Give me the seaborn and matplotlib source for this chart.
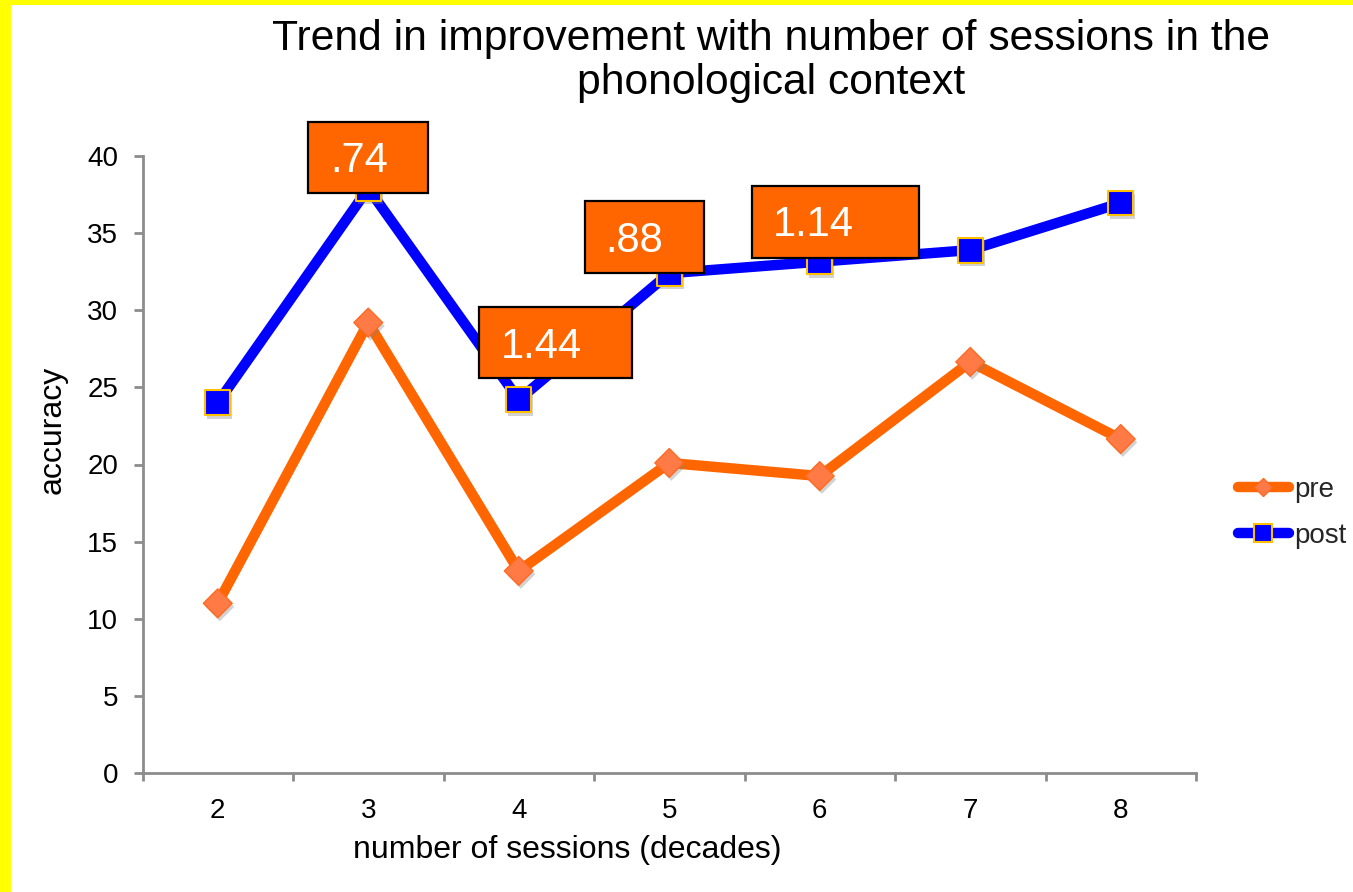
import matplotlib
matplotlib.use("Agg")
import matplotlib.pyplot as plt
import matplotlib.patheffects as pe
from matplotlib.patches import Rectangle
from matplotlib.lines import Line2D
import numpy as np
import seaborn as sns

# ---- data -------------------------------------------------------------
sessions = [2, 3, 4, 5, 6, 7, 8]
pre = [11.0, 29.2, 13.1, 20.1, 19.25, 26.65, 21.65]
post = [24.0, 37.9, 24.2, 32.4, 33.15, 33.9, 36.95]
series_names = ["pre", "post"]
effect_labels = [".74", "1.44", ".88", "1.14"]

title = "Trend in improvement with number of sessions in the\nphonological context"
x_label = "number of sessions (decades)"
y_label = "accuracy"

# ---- styling ----------------------------------------------------------
ORANGE = "#FF6600"
ORANGE_MARK = "#FF7A45"
BLUE = "#0000FF"
GOLD = "#FFC000"
AXIS_GREY = "#8C8C8C"
LINE_W = 7.5

# call-out boxes in data units: (x0, x1, y0, y1, text x, text baseline)
box_geom = [
    (2.602, 3.395, 37.62, 42.22, 2.745, 38.95),
    (3.738, 4.751, 25.59, 30.19, 3.880, 26.90),
    (4.440, 5.233, 32.43, 37.08, 4.578, 33.80),
    (5.548, 6.659, 33.41, 38.06, 5.686, 34.80),
]

sns.set_theme(style="white")
plt.rcParams["font.family"] = ["Liberation Sans", "DejaVu Sans"]

W, H = 1353, 892
fig = plt.figure(figsize=(W / 100, H / 100), dpi=100, facecolor="#FFFF00")
# white page inside the yellow frame
fig.patches.append(Rectangle((11 / W, 0), 1, 1 - 5 / H, transform=fig.transFigure,
                             facecolor="white", edgecolor="none", zorder=-5))

ax = fig.add_axes([142.5 / W, 119 / H, 1053.5 / W, 617 / H])
ax.set_facecolor("none")

shadow = [pe.SimplePatchShadow(offset=(1.5, -2.5), shadow_rgbFace="#808080", alpha=0.35),
          pe.Normal()]

# lines
sns.lineplot(x=sessions, y=pre, color=ORANGE, linewidth=LINE_W, ax=ax, zorder=2)
sns.lineplot(x=sessions, y=post, color=BLUE, linewidth=LINE_W, ax=ax, zorder=2)

# markers
sns.scatterplot(x=sessions, y=pre, marker="D", s=215, color=ORANGE_MARK,
                edgecolor="#FF6A20", linewidth=1.0, ax=ax, zorder=4, legend=False)
ax.collections[-1].set_path_effects(shadow)
sns.scatterplot(x=sessions, y=post, marker="s", s=320, color=BLUE,
                edgecolor=GOLD, linewidth=1.5, ax=ax, zorder=4, legend=False)
ax.collections[-1].set_path_effects(shadow)

# call-out boxes
for lab, (x0, x1, y0, y1, tx, ty) in zip(effect_labels, box_geom):
    ax.add_patch(Rectangle((x0, y0), x1 - x0, y1 - y0, facecolor=ORANGE,
                           edgecolor="black", linewidth=1.6, zorder=6, clip_on=False))
    ax.text(tx, ty, lab, color="white", fontsize=30, ha="left", va="baseline",
            zorder=7, clip_on=False)

# axes
ax.set_xlim(1.5, 8.5)
ax.set_ylim(0, 40)
ax.set_xticks(np.arange(1.5, 9.0, 1.0))
ax.set_xticklabels([])
ax.set_xticks(sessions, minor=True)
ax.set_xticklabels([str(s) for s in sessions], minor=True)
ax.set_yticks(range(0, 41, 5))

ax.tick_params(axis="x", which="major", bottom=True, length=5.5, width=2,
               color=AXIS_GREY, direction="out")
ax.tick_params(axis="x", which="minor", bottom=True, length=0, pad=18,
               labelsize=20, labelcolor="black")
ax.tick_params(axis="y", which="major", left=True, length=6.5, width=2,
               color=AXIS_GREY, direction="out", pad=11, labelsize=20,
               labelcolor="black")

sns.despine(ax=ax)
for side in ("left", "bottom"):
    ax.spines[side].set_color(AXIS_GREY)
    ax.spines[side].set_linewidth(2)

ax.set_xlabel(x_label, fontsize=23, color="black")
ax.xaxis.set_label_coords(0.4034, -0.100)
ax.set_ylabel(y_label, fontsize=23, color="black")
ax.yaxis.set_label_coords(-0.0707, 0.556)

fig.text(771 / W, 1 - 19 / H, title, ha="center", va="top", fontsize=30.7,
         linespacing=1.12, color="black")

handles = [
    Line2D([], [], color=ORANGE, lw=LINE_W, marker="D", markersize=9.5,
           markerfacecolor=ORANGE_MARK, markeredgecolor="#FF6A20",
           solid_capstyle="round"),
    Line2D([], [], color=BLUE, lw=LINE_W, marker="s", markersize=12.5,
           markerfacecolor=BLUE, markeredgecolor=GOLD, markeredgewidth=1.5,
           solid_capstyle="round"),
]
fig.legend(handles, series_names, loc="center left",
           bbox_to_anchor=(1237.5 / W, 1 - 513 / H), frameon=False, fontsize=20,
           handlelength=1.85, handletextpad=0.2, labelspacing=0.72,
           borderpad=0, borderaxespad=0)

fig.savefig("out.png", dpi=100, facecolor=fig.get_facecolor())
